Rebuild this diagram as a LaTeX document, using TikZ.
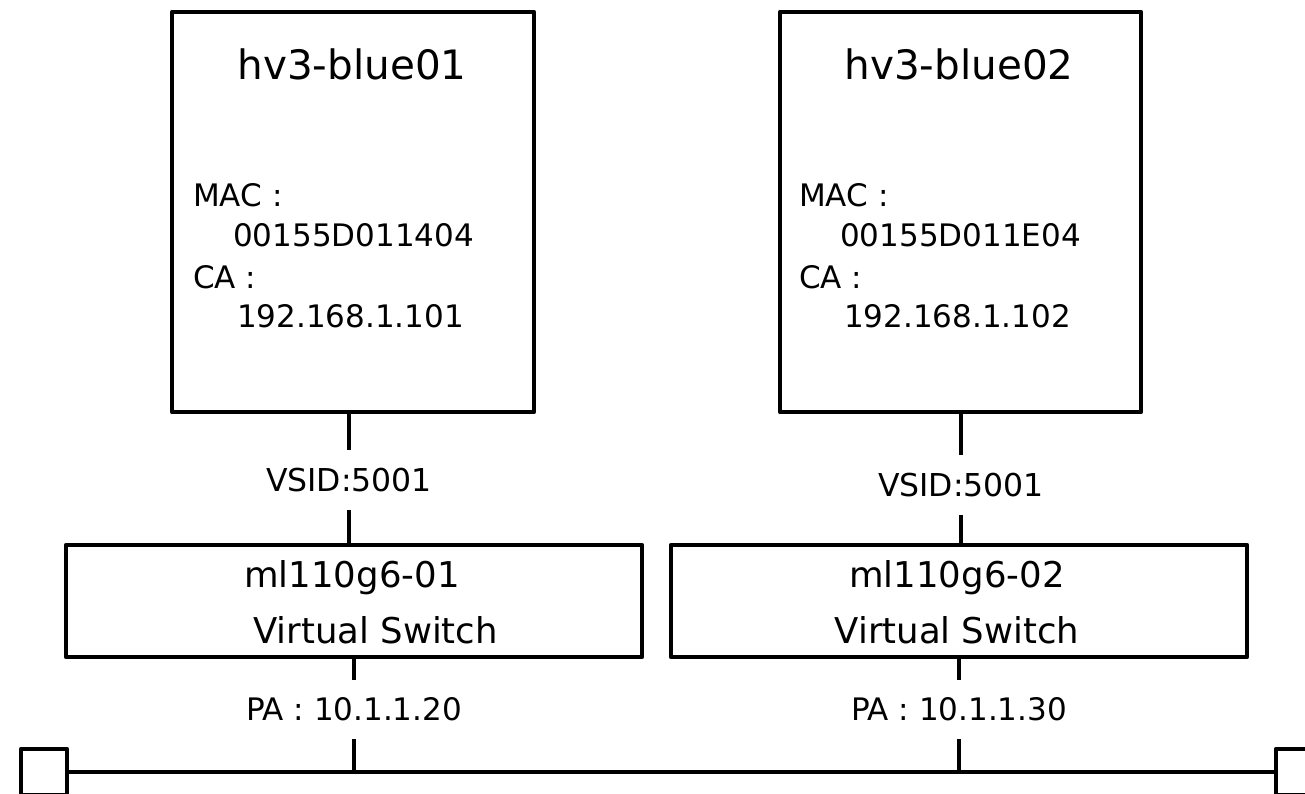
\documentclass[tikz,border=0pt]{standalone}
\usepackage{fontspec}
\setmainfont{DejaVu Sans}
\begin{document}
\begin{tikzpicture}[x=1pt,y=-1pt,
  frame/.style={draw=black,line width=4.3pt,line join=round,rectangle,inner sep=0pt},
  wire/.style={draw=black,line width=4.3pt},
  title/.style={inner sep=0pt,anchor=base,font=\fontsize{40.5}{48}\selectfont},
  info/.style={inner sep=0pt,anchor=base west,font=\fontsize{31}{37}\selectfont},
  swtext/.style={inner sep=0pt,anchor=base,font=\fontsize{35.5}{42}\selectfont},
  tag/.style={inner sep=0pt,minimum height=60pt,font=\fontsize{31.5}{37}\selectfont},
  patag/.style={inner sep=0pt,minimum height=59pt,font=\fontsize{31}{37}\selectfont},
  endcap/.style={frame,minimum size=46pt}]
\useasboundingbox (0,0) rectangle (1305,794);

% hosts
\node[frame,minimum width=362pt,minimum height=400pt] (b1) at (353,212) {};
\node[frame,minimum width=361pt,minimum height=400pt] (b2) at (960.5,212) {};
\node[title] (t1) at (352,80) {hv3-blue01};
\node[title] (t2) at (959,80) {hv3-blue02};
\node[info] (m1) at (193,207) {MAC :};
\node[info] (m1v) at (233,247) {00155D011404};
\node[info] (c1) at (193,288) {CA :};
\node[info] (c1v) at (237,327) {192.168.1.101};
\node[info] (m2) at (799,207) {MAC :};
\node[info] (m2v) at (840,247) {00155D011E04};
\node[info] (c2) at (799,288) {CA :};
\node[info] (c2v) at (844,327) {192.168.1.102};

% virtual switches
\node[frame,minimum width=576pt,minimum height=112pt] (sw1) at (354,601) {};
\node[frame,minimum width=576pt,minimum height=112pt] (sw2) at (959,601) {};
\node[swtext] (s1a) at (352,587) {ml110g6-01};
\node[swtext,anchor=base west] (s1b) at (253,643) {Virtual Switch};
\node[swtext] (s2a) at (957,587) {ml110g6-02};
\node[swtext] (s2b) at (957,643) {Virtual Switch};

% VSID links
\node[tag] (v1) at (349,480) {VSID:5001};
\node[tag] (v2) at (961,485) {VSID:5001};
\draw[wire] (v1.north |- b1.south) -- (v1.north);
\draw[wire] (v1.south) -- (v1.south |- sw1.north);
\draw[wire] (v2.north |- b2.south) -- (v2.north);
\draw[wire] (v2.south) -- (v2.south |- sw2.north);

% physical network
\node[endcap] (e1) at (44,772) {};
\node[endcap] (e2) at (1299,772) {};
\draw[wire] (e1.east) -- (e2.west);
\node[patag] (p1) at (354,709.5) {PA : 10.1.1.20};
\node[patag] (p2) at (959,709.5) {PA : 10.1.1.30};
\draw[wire] (p1.north |- sw1.south) -- (p1.north);
\draw[wire] (p1.south) -- (p1.south |- e1.east);
\draw[wire] (p2.north |- sw2.south) -- (p2.north);
\draw[wire] (p2.south) -- (p2.south |- e1.east);
\end{tikzpicture}
\end{document}
